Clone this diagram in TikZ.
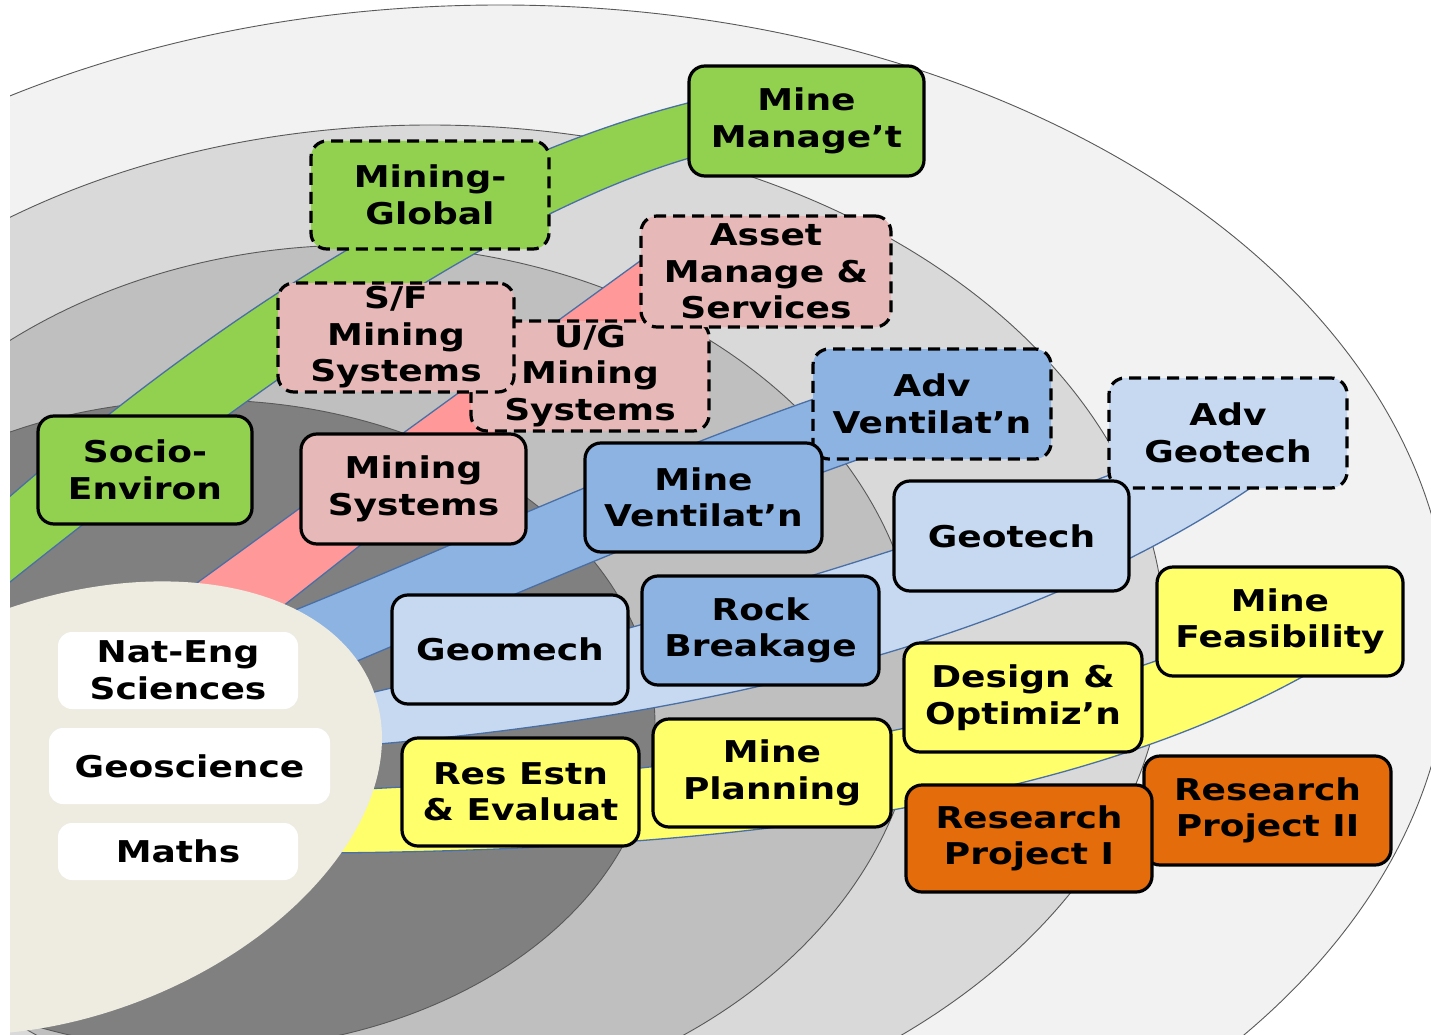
\documentclass[tikz,border=0pt]{standalone}
\usepackage{fontspec}
\newfontfamily\boxfont{DejaVu Sans}[FakeStretch=1.2]
\definecolor{ringA}{HTML}{F2F2F2}
\definecolor{ringB}{HTML}{D9D9D9}
\definecolor{ringC}{HTML}{BFBFBF}
\definecolor{ringD}{HTML}{808080}
\definecolor{ringline}{HTML}{595959}
\definecolor{creamcol}{HTML}{EEECE1}
\definecolor{mgreen}{HTML}{92D050}
\definecolor{mpink}{HTML}{E6B9B8}
\definecolor{bpink}{HTML}{FF9999}
\definecolor{mblue}{HTML}{8DB3E2}
\definecolor{lblue}{HTML}{C6D9F1}
\definecolor{myellow}{HTML}{FFFF6B}
\definecolor{morange}{HTML}{E46C0A}
\definecolor{bandline}{HTML}{4A6FA5}
\tikzset{
  txt/.style={align=center, inner sep=0pt, text=black,
    font={\boxfont\bfseries\fontsize{30}{36.5}\selectfont}},
  box/.style={txt, draw=black, line width=3.2pt, rounded corners=16pt},
  dbox/.style={box, dash pattern=on 12pt off 7pt},
  wbox/.style={txt, fill=white, rounded corners=14pt},
  ring/.style={draw=ringline, line width=0.9pt},
  band/.style={draw=bandline, line width=1.3pt}
}
\begin{document}
\begin{tikzpicture}[x=1pt,y=-1pt]
\useasboundingbox (0,0) rectangle (1431,1035);
\fill[white] (0,0) rectangle (1431,1035);
\begin{scope}
\clip (10,0) rectangle (1431,1035);
% rings
\filldraw[ring, fill=ringA] (500,640) ellipse (950 and 635);
\filldraw[ring, fill=ringB] (430,640) ellipse (735 and 515);
\filldraw[ring, fill=ringC] (360,680) ellipse (560 and 435);
\filldraw[ring, fill=ringD] (205,725) ellipse (450 and 325);
% bands
\filldraw[band, fill=mgreen] (0,505) .. controls (200,330) and (450,160) .. (700,100)
  -- (700,155) .. controls (500,210) and (250,390) .. (0,590) -- cycle;
\filldraw[band, fill=bpink] (150,617) -- (680,232) -- (720,262) -- (240,640) -- cycle;
\filldraw[band, fill=mblue] (250,628) .. controls (450,550) and (650,450) .. (900,370)
  -- (900,445) .. controls (680,520) and (480,610) .. (300,685) -- cycle;
\filldraw[band, fill=lblue] (340,700) .. controls (600,640) and (900,560) .. (1200,440)
  -- (1290,460) .. controls (1050,640) and (700,720) .. (330,748) -- cycle;
\filldraw[band, fill=myellow] (320,791) .. controls (700,775) and (1000,730) .. (1250,625)
  -- (1340,655) .. controls (1120,790) and (800,850) .. (320,853) -- cycle;
% core
\fill[creamcol, rotate around={21:(65,808)}] (65,808) ellipse (330 and 207);
\end{scope}
% core boxes
\node[wbox, minimum width=240pt, minimum height=77pt] (nes) at (178,670.5) {Nat-Eng\\Sciences};
\node[wbox, minimum width=281pt, minimum height=76pt] (geos) at (189.5,766) {Geoscience};
\node[wbox, minimum width=240pt, minimum height=57pt] (maths) at (178,851.5) {Maths};
% nodes
\node[dbox, fill=mpink, minimum width=238pt, minimum height=110pt] (ug) at (590,376) {U/G\\Mining\\Systems};
\node[dbox, fill=mpink, minimum width=236pt, minimum height=109pt] (sf) at (396,337.5) {S/F\\Mining\\Systems};
\node[dbox, fill=mpink, minimum width=250pt, minimum height=111pt] (ams) at (766,271.5) {Asset\\Manage \&\\Services};
\node[dbox, fill=mgreen, minimum width=238pt, minimum height=108pt] (mg) at (430,195) {Mining-\\Global};
\node[box, fill=mgreen, minimum width=235pt, minimum height=110pt] (mm) at (806.5,121) {Mine\\Manage’t};
\node[dbox, fill=mblue, minimum width=238pt, minimum height=110pt] (av) at (932,404) {Adv\\Ventilat’n};
\node[box, fill=mblue, minimum width=237pt, minimum height=109pt] (mv) at (703.5,497.5) {Mine\\Ventilat’n};
\node[dbox, fill=lblue, minimum width=238pt, minimum height=110pt] (ag) at (1228,433) {Adv\\Geotech};
\node[box, fill=lblue, minimum width=235pt, minimum height=110pt] (gt) at (1011.5,536) {Geotech};
\node[box, fill=mgreen, minimum width=214pt, minimum height=108pt] (se) at (145,470) {Socio-\\Environ};
\node[box, fill=mpink, minimum width=225pt, minimum height=110pt] (ms) at (413.5,489) {Mining\\Systems};
\node[box, fill=myellow, minimum width=246pt, minimum height=109pt] (mf) at (1280,621.5) {Mine\\Feasibility};
\node[box, fill=mblue, minimum width=237pt, minimum height=109pt] (rb) at (760.5,630.5) {Rock\\Breakage};
\node[box, fill=lblue, minimum width=236pt, minimum height=109pt] (gm) at (510,649.5) {Geomech};
\node[box, fill=myellow, minimum width=238pt, minimum height=109pt] (do) at (1023,697.5) {Design \&\\Optimiz’n};
\node[box, fill=myellow, minimum width=237pt, minimum height=108pt] (re) at (520.5,792) {Res Estn\\\& Evaluat};
\node[box, fill=myellow, minimum width=238pt, minimum height=108pt] (mp) at (772,773) {Mine\\Planning};
\node[box, fill=morange, minimum width=247pt, minimum height=109pt] (rp2) at (1267.5,810.5) {Research\\Project II};
\node[box, fill=morange, minimum width=246pt, minimum height=107pt] (rp1) at (1029,838.5) {Research\\Project I};
\end{tikzpicture}
\end{document}
